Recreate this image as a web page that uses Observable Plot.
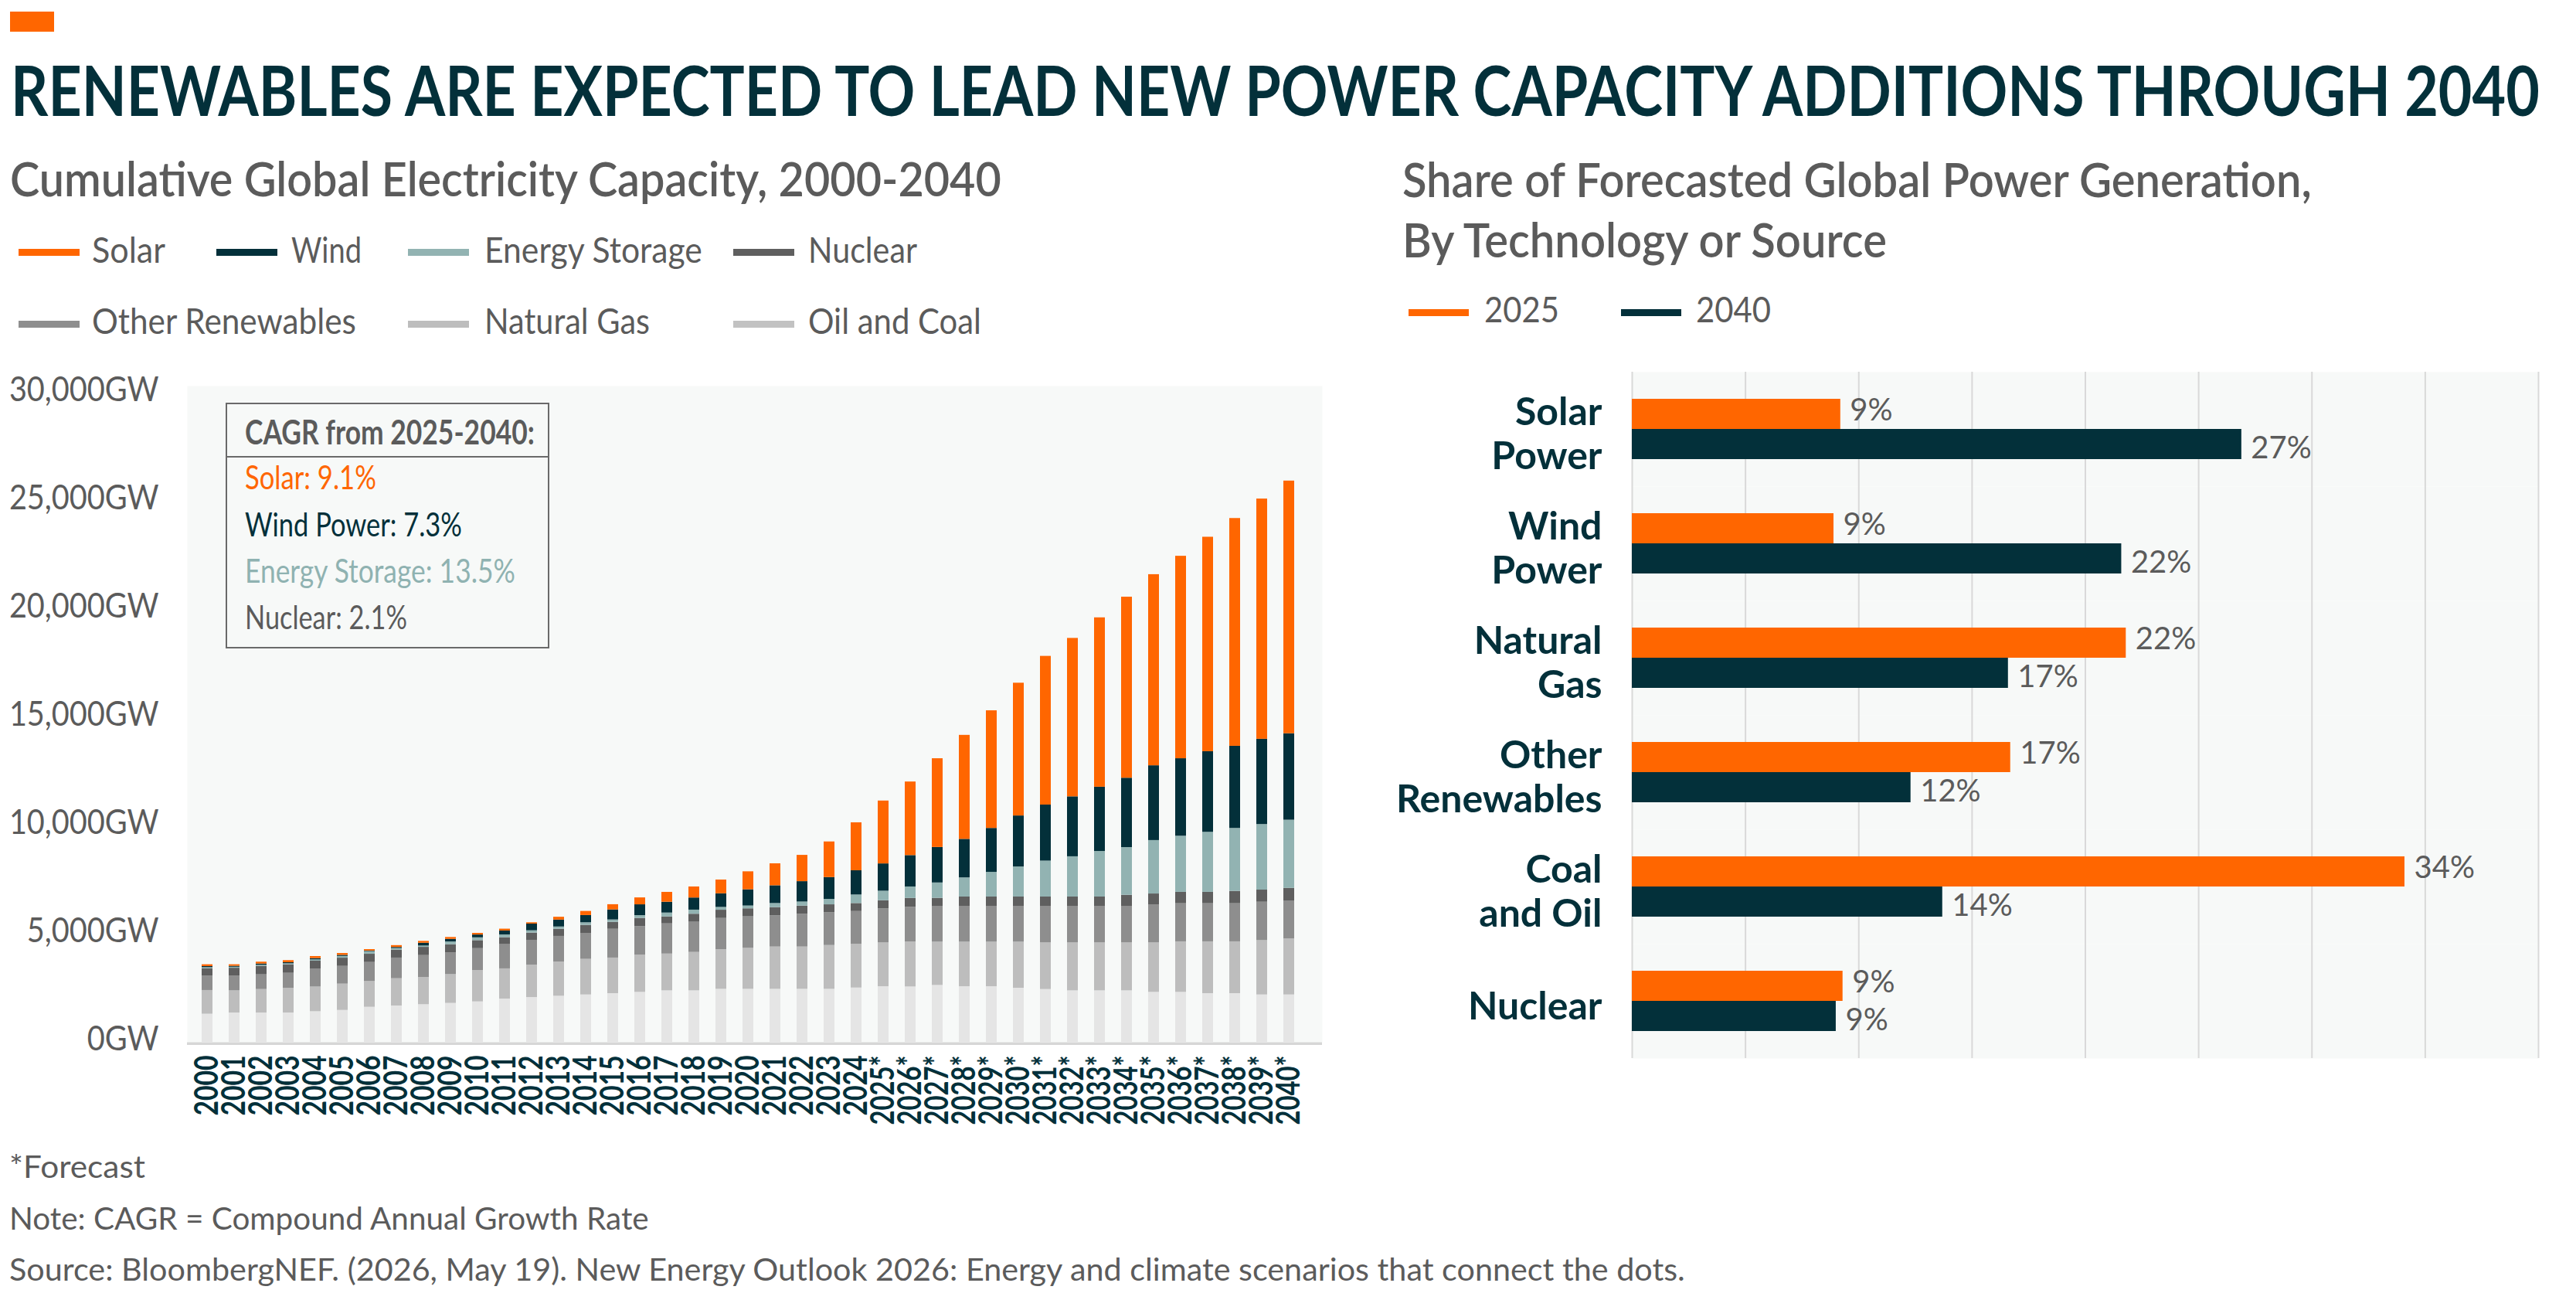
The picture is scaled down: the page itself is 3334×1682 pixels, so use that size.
<!DOCTYPE html>
<html>
<head>
<meta charset="utf-8">
<script src="https://cdn.jsdelivr.net/npm/d3@7"></script>
<script src="https://cdn.jsdelivr.net/npm/@observablehq/plot@0.6"></script>
<style>
  html, body { margin: 0; padding: 0; background: #ffffff; }
  #page { position: relative; width: 3334px; height: 1682px; overflow: hidden; font-family: Lato, "Open Sans", sans-serif; }
  .chart { position: absolute; }
</style>
</head>
<body>
<div id="page"></div>
<script>
// ---------------- DATA ----------------
const yearLabels = ["2000","2001","2002","2003","2004","2005","2006","2007","2008","2009",
  "2010","2011","2012","2013","2014","2015","2016","2017","2018","2019",
  "2020","2021","2022","2023","2024","2025*","2026*","2027*","2028*","2029*",
  "2030*","2031*","2032*","2033*","2034*","2035*","2036*","2037*","2038*","2039*","2040*"];

// stacking order, bottom to top
const seriesNames = ["Oil and Coal", "Natural Gas", "Other Renewables", "Nuclear", "Energy Storage", "Wind", "Solar"];

// cumulative capacity (GW) per series, 2000..2040
const oilAndCoal = [1300,1355,1355,1355,1415,1475,1620,1680,1740,1800,
  1870,2000,2070,2130,2190,2250,2310,2380,2380,2450,
  2450,2450,2450,2450,2510,2570,2560,2630,2570,2570,
  2500,2440,2380,2380,2380,2310,2310,2250,2250,2190,2190];
const naturalGas = [1095,1025,1085,1145,1140,1215,1190,1260,1260,1330,
  1450,1395,1500,1585,1645,1645,1715,1700,1775,1835,
  1895,1955,1955,2025,2025,2025,2080,2000,2060,2060,
  2130,2155,2215,2215,2215,2285,2335,2395,2395,2510,2585];
const otherRenewables = [675,690,680,690,835,820,880,955,1010,1010,
  1010,1120,1145,1180,1200,1330,1320,1395,1395,1440,
  1455,1440,1510,1510,1510,1570,1600,1655,1655,1655,
  1655,1690,1690,1690,1690,1760,1760,1760,1760,1775,1760];
const nuclear = [335,355,395,395,360,380,380,370,380,370,
  370,320,335,330,370,320,380,320,370,380,
  370,380,380,370,370,380,410,370,430,430,
  430,430,430,430,510,500,525,525,570,560,580];
const energyStorage = [45,45,45,45,60,80,120,70,60,130,
  130,130,105,105,120,110,130,180,190,130,
  130,190,190,250,395,440,530,710,885,1140,
  1390,1660,1860,2105,2205,2470,2595,2775,2910,3030,3150];
const wind = [50,45,60,50,60,50,30,50,130,120,
  130,180,310,320,335,465,500,500,560,630,
  750,820,940,1010,1120,1260,1450,1640,1780,2030,
  2355,2590,2770,2970,3205,3455,3580,3725,3795,3940,3995];
const solar = [85,70,85,95,95,85,65,85,85,85,
  75,85,60,130,190,240,320,455,510,635,
  830,1015,1215,1645,2215,2905,3400,4100,4805,5435,
  6135,6870,7320,7825,8365,8830,9355,9910,10525,11100,11675];

const capacityTicks = [0, 5000, 10000, 15000, 20000, 25000, 30000];

const cagrLabels = ["Solar", "Wind Power", "Energy Storage", "Nuclear"];
const cagrValues = [9.1, 7.3, 13.5, 2.1];

// right chart
const techCategories = ["Solar Power", "Wind Power", "Natural Gas", "Other Renewables", "Coal and Oil", "Nuclear"];
const techLabels = ["Solar\nPower", "Wind\nPower", "Natural\nGas", "Other\nRenewables", "Coal\nand Oil", "Nuclear"];
const shareYears = ["2025", "2040"];
const share2025 = [9.2, 8.9, 21.8, 16.7, 34.1, 9.3];
const share2040 = [26.9, 21.6, 16.6, 12.3, 13.7, 9.0];
const shareTicks = [0, 5, 10, 15, 20, 25, 30, 35, 40];

// ---------------- STYLE ----------------
const FONT = "Lato, 'Open Sans', sans-serif";
const DARK = "#03303a";
const GRAY = "#5b5b5b";
const ORANGE = "#ff6600";
const TEAL = "#8fb2b1";
const PLOT_BG = "#f7f9f8";
const seriesColors = ["#e5e5e5", "#bdbdbd", "#8e8e8e", "#5f5f5f", "#92b3b2", DARK, ORANGE];
const legendSwatch = {"Oil and Coal": "#c2c2c2"};

const page = document.getElementById("page");

// ---------------- LEFT CHART ----------------
const seriesValues = [oilAndCoal, naturalGas, otherRenewables, nuclear, energyStorage, wind, solar];
const capacityRows = seriesNames.flatMap((name, s) =>
  seriesValues[s].map((v, i) => ({year: yearLabels[i], series: name, value: v})));

const leftChart = Plot.plot({
  width: 1720,
  height: 990,
  marginLeft: 242,
  marginRight: 9,
  marginTop: 19,
  marginBottom: 122,
  style: {fontFamily: FONT, background: "transparent", overflow: "visible"},
  x: {type: "band", domain: yearLabels, paddingInner: 0.593, paddingOuter: 0.2966, insetRight: 17, label: null, axis: null},
  y: {domain: [0, 30000], insetTop: 9, label: null, axis: null},
  color: {domain: seriesNames, range: seriesColors},
  marks: [
    Plot.frame({fill: PLOT_BG, stroke: null}),
    Plot.barY(capacityRows, Plot.stackY({x: "year", y: "value", fill: "series", order: seriesNames})),
    Plot.ruleY([0], {stroke: "#d6d6d6", strokeWidth: 3.5, dy: 1.75}),
    Plot.axisY({ticks: capacityTicks, tickFormat: d => d3.format(",")(d) + "GW", tickSize: 0, tickPadding: 37,
      fontSize: 44, color: GRAY, dy: -4, label: null}),
    Plot.axisX({tickRotate: -90, tickSize: 0, tickPadding: 17, fontSize: 42, fontWeight: "bold", color: DARK, label: null})
  ]
});
const leftDiv = document.createElement("div");
leftDiv.className = "chart";
leftDiv.style.cssText = "left:0px;top:480px;width:1720px;height:990px;z-index:1;";
leftDiv.appendChild(leftChart);
page.appendChild(leftDiv);

// condense tick labels to the reference's narrow face
leftChart.querySelectorAll('g[aria-label="x-axis tick label"] text').forEach(t => {
  t.setAttribute("textLength", t.textContent.trim().length > 4 ? 90 : 78);
  t.setAttribute("lengthAdjust", "spacingAndGlyphs");
});
leftChart.querySelectorAll('g[aria-label="y-axis tick label"] text').forEach(t => {
  const w = t.getComputedTextLength();
  t.setAttribute("textLength", w * 0.9);
  t.setAttribute("lengthAdjust", "spacingAndGlyphs");
});

// ---------------- RIGHT CHART ----------------
const shareRows = techCategories.flatMap((c, i) => [
  {cat: c, year: shareYears[0], value: share2025[i]},
  {cat: c, year: shareYears[1], value: share2040[i]}
]);
const catRows = techCategories.map((c, i) => ({cat: c, label: techLabels[i]}));
const valueLabel = d => Math.round(d.value) + "%";

const rightChart = Plot.plot({
  width: 1634,
  height: 930,
  marginLeft: 412,
  marginRight: 49,
  marginTop: 20,
  marginBottom: 21,
  style: {fontFamily: FONT, background: "transparent", overflow: "visible"},
  fy: {domain: techCategories, padding: 0, axis: null, label: null},
  y: {domain: shareYears, paddingInner: 0, paddingOuter: 0.853, axis: null, label: null},
  x: {domain: [0, 40], axis: null, label: null},
  color: {domain: shareYears, range: [ORANGE, DARK]},
  marks: [
    Plot.frame({fill: PLOT_BG, stroke: null}),
    Plot.ruleX(shareTicks, {stroke: "#d9d9d9", strokeWidth: 2}),
    Plot.barX(shareRows, {fy: "cat", y: "year", x: "value", fill: "year"}),
    Plot.text(shareRows.filter(d => d.year === shareYears[0]), {fy: "cat", y: "year", x: "value", text: valueLabel,
      dx: 12, dy: -5, textAnchor: "start", fontSize: 40, fill: GRAY}),
    Plot.text(shareRows.filter(d => d.year === shareYears[1]), {fy: "cat", y: "year", x: "value", text: valueLabel,
      dx: 12, dy: 5, textAnchor: "start", fontSize: 40, fill: GRAY}),
    Plot.text(catRows, {fy: "cat", text: "label", frameAnchor: "left", dx: -39, dy: 5, textAnchor: "end",
      fontSize: 50, fontWeight: "bold", fill: DARK, lineHeight: 1.14})
  ]
});
const rightDiv = document.createElement("div");
rightDiv.className = "chart";
rightDiv.style.cssText = "left:1700px;top:460px;width:1634px;height:930px;z-index:1;";
rightDiv.appendChild(rightChart);
page.appendChild(rightDiv);

// ---------------- TEXT, LEGENDS, NOTES ----------------
const ann = d3.create("svg")
  .attr("width", 3334).attr("height", 1682)
  .style("position", "absolute").style("left", "0px").style("top", "0px")
  .style("z-index", "2").style("pointer-events", "none")
  .style("font-family", FONT);
page.appendChild(ann.node());

// place a text at a baseline and stretch it horizontally to the width it has in the reference
function label(x, y, str, size, weight, fill, width) {
  const t = ann.append("text")
    .attr("font-size", size).attr("font-weight", weight).attr("fill", fill).text(str);
  const natural = t.node().getComputedTextLength();
  const sx = width && natural ? width / natural : 1;
  t.attr("transform", `translate(${x},${y}) scale(${sx},1)`);
  return t;
}

// accent mark + title
ann.append("rect").attr("x", 13).attr("y", 15).attr("width", 57).attr("height", 26).attr("fill", ORANGE);
label(14, 150, "RENEWABLES ARE EXPECTED TO LEAD NEW POWER CAPACITY ADDITIONS THROUGH 2040", 90, 700, DARK, 3273);

// subtitles
label(13, 254, "Cumulative Global Electricity Capacity, 2000-2040", 62, 600, GRAY, 1283);
label(1815, 255, "Share of Forecasted Global Power Generation,", 62, 600, GRAY, 1177);
label(1815, 333, "By Technology or Source", 62, 600, GRAY, 627);

// left legend (reverse of stacking order)
const legendOrder = seriesNames.slice().reverse();
const legendSlots = [[0,0],[1,0],[2,0],[3,0],[0,1],[2,1],[3,1]];
const swatchX = [24, 280, 528, 949];
const textX = [119, 377, 627, 1046];
const rowSwatchY = [322, 415];
const rowBaseline = [340, 432];
const legendWidths = [95, 91, 282, 141, 342, 214, 224];
legendOrder.forEach((name, k) => {
  const [col, row] = legendSlots[k];
  const colorIdx = seriesNames.indexOf(name);
  ann.append("rect").attr("x", swatchX[col]).attr("y", rowSwatchY[row]).attr("width", 79).attr("height", 9)
    .attr("fill", legendSwatch[name] || seriesColors[colorIdx]);
  label(textX[col], rowBaseline[row], name, 46, 400, GRAY, legendWidths[k]);
});

// right legend
[[1823, 1921], [2098, 2195]].forEach(([sx, tx], k) => {
  ann.append("rect").attr("x", sx).attr("y", 400).attr("width", 78).attr("height", 9)
    .attr("fill", k === 0 ? ORANGE : DARK);
  label(tx, 417, shareYears[k], 46, 400, GRAY, 97);
});

// CAGR box
ann.append("rect").attr("x", 293).attr("y", 522).attr("width", 417).attr("height", 316)
  .attr("fill", PLOT_BG).attr("stroke", "#6a6a6a").attr("stroke-width", 2);
ann.append("line").attr("x1", 293).attr("x2", 710).attr("y1", 591).attr("y2", 591)
  .attr("stroke", "#6a6a6a").attr("stroke-width", 2);
label(317, 575, "CAGR from 2025-2040:", 44, 700, GRAY, 375);
const cagrColors = [ORANGE, DARK, TEAL, GRAY];
const cagrBaselines = [633, 694, 754, 814];
const cagrWidths = [170, 281, 350, 210];
cagrLabels.forEach((name, i) => {
  label(317, cagrBaselines[i], `${name}: ${cagrValues[i]}%`, 42, 400, cagrColors[i], cagrWidths[i]);
});

// footnotes
label(12, 1524, "*Forecast", 40, 400, GRAY, 176);
label(12, 1591, "Note: CAGR = Compound Annual Growth Rate", 40, 400, GRAY, 828);
label(12, 1657, "Source: BloombergNEF. (2026, May 19). New Energy Outlook 2026: Energy and climate scenarios that connect the dots.", 40, 400, GRAY, 2170);
</script>
</body>
</html>
